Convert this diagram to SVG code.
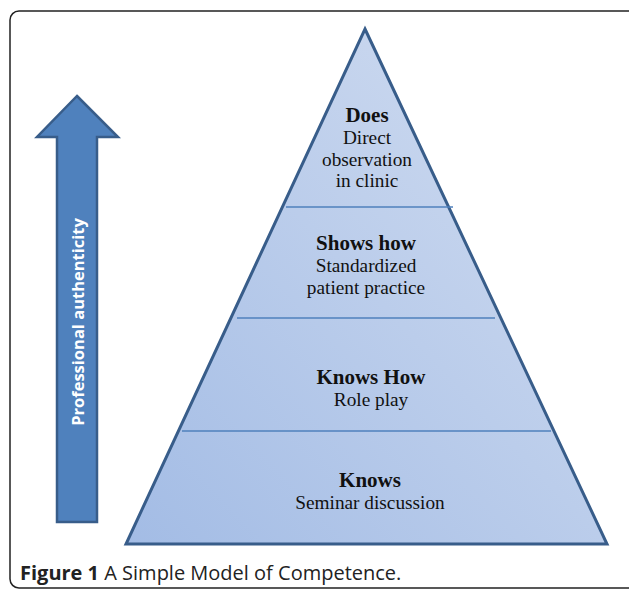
<svg xmlns="http://www.w3.org/2000/svg" width="629" height="590" viewBox="0 0 629 590">
<defs>
<linearGradient id="pyr" x1="0" y1="1" x2="1" y2="0">
<stop offset="0" stop-color="#a3bce5"/>
<stop offset="1" stop-color="#d3def1"/>
</linearGradient>
<style>
.lvl{fill:none;stroke:#4f81bd;stroke-width:1.5}
.t{font-family:"Liberation Serif",serif;text-anchor:middle;fill:#111}
.b{font-weight:bold;font-size:21px}
.r{font-size:19.3px}
</style>
</defs>
<rect x="10" y="11" width="640" height="577" rx="9" fill="#fff" stroke="#222" stroke-width="1.5"/>
<g id="arrow">
<polygon points="77,96 118,137 97,137 97,522 57,522 57,137 37,137" fill="#4f81bd" stroke="#385d8a" stroke-width="2.5" stroke-linejoin="miter"/>
<text x="0" y="0" transform="translate(84,322) rotate(-90)" font-family="'Open Sans',sans-serif" font-weight="bold" font-size="16.5" fill="#fff" text-anchor="middle">Professional authenticity</text>
</g>
<g id="pyramid">
<polygon points="365,29 607,544 126,544" fill="url(#pyr)" stroke="#385d8a" stroke-width="3" stroke-linejoin="miter"/>
</g>
<g id="connectors">
<line class="lvl" x1="286" y1="207" x2="453" y2="207"/>
<line class="lvl" x1="237" y1="318" x2="495" y2="318"/>
<line class="lvl" x1="182" y1="431" x2="551" y2="431"/>
</g>
<g id="does">
<text class="t b" x="367" y="122">Does</text>
<text class="t r" x="367" y="144">Direct</text>
<text class="t r" x="367" y="166">observation</text>
<text class="t r" x="367" y="187">in clinic</text>
</g>
<g id="showshow">
<text class="t b" x="366" y="250">Shows how</text>
<text class="t r" x="366" y="272">Standardized</text>
<text class="t r" x="366" y="294">patient practice</text>
</g>
<g id="knowshow">
<text class="t b" x="371" y="384">Knows How</text>
<text class="t r" x="371" y="406">Role play</text>
</g>
<g id="knows">
<text class="t b" x="370" y="487">Knows</text>
<text class="t r" x="370" y="509">Seminar discussion</text>
</g>
<g id="caption">
<text x="20" y="580" font-family="'Open Sans',sans-serif" font-size="20" fill="#222"><tspan font-weight="bold">Figure 1</tspan> A Simple Model of Competence.</text>
</g>
</svg>
